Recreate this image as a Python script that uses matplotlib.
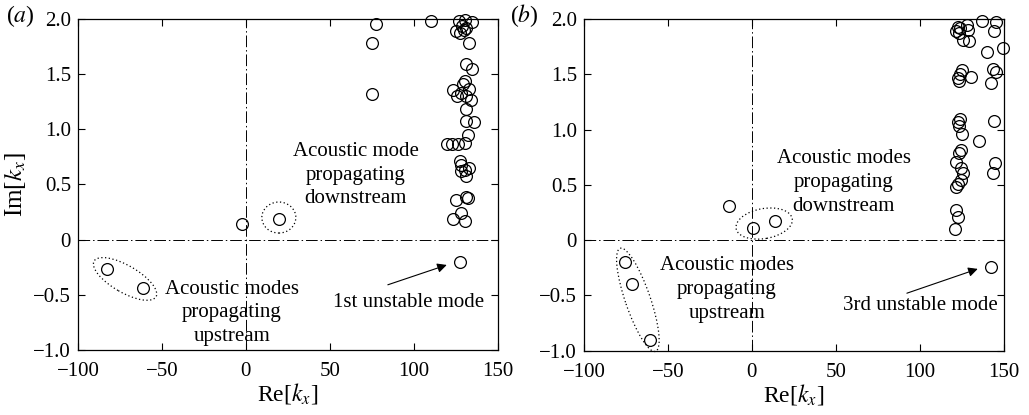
import numpy as np
import matplotlib
matplotlib.use("Agg")
import matplotlib.pyplot as plt
from matplotlib.patches import Ellipse
from matplotlib.transforms import ScaledTranslation
from matplotlib.ticker import FuncFormatter

plt.rcParams["font.family"] = ["Liberation Serif", "DejaVu Serif"]
plt.rcParams["mathtext.fontset"] = "stix"

# panel (a): eigenvalues k_x
re_a = [77.2, 75.2, 75.2, 110.3, -2.4, 19.6, -82.5, -61.3, 127.6,
        126.8, 130.2, 134.7, 128.8, 131.2, 125.2, 127.2, 129.6, 133.1,
        131.2, 134.7, 130.2, 129.2, 123.6, 125.6, 128.2, 131.2, 133.1, 134.1,
        131.2, 131.2, 136.1, 132.1,
        119.5, 123.0, 126.0, 130.5,
        127.2, 128.2, 130.2, 133.1, 128.2, 131.2,
        125.2, 131.2, 132.1, 123.1, 128.2, 130.2]
im_a = [1.96, 1.78, 1.32, 1.98, 0.14, 0.19, -0.27, -0.44, -0.20,
        1.98, 1.99, 1.97, 1.94, 1.92, 1.89, 1.87, 1.90, 1.78,
        1.59, 1.55, 1.44, 1.41, 1.36, 1.30, 1.33, 1.30, 1.37, 1.27,
        1.18, 1.08, 1.07, 0.95,
        0.87, 0.87, 0.87, 0.88,
        0.71, 0.68, 0.63, 0.65, 0.62, 0.58,
        0.36, 0.39, 0.38, 0.19, 0.24, 0.17]

# panel (b)
re_b = [-13.8, 0.7, 13.8, -75.6, -71.3, -60.7, 142.5,
        137.1, 145.4, 144.4, 122.6, 124.1, 121.6, 123.2, 128.2, 128.6, 125.6, 129.2,
        139.9, 149.8, 125.2, 124.1, 122.6, 123.6, 130.6, 143.5, 145.4, 142.1,
        124.1, 122.6, 123.2, 125.0, 135.5, 143.9,
        124.5, 123.4, 121.8, 124.8, 125.8, 145.0, 143.5,
        124.8, 123.0, 121.4, 121.4, 122.8, 120.8]
im_b = [0.31, 0.11, 0.17, -0.20, -0.40, -0.90, -0.24,
        1.98, 1.97, 1.89, 1.93, 1.92, 1.89, 1.87, 1.95, 1.90, 1.81, 1.80,
        1.70, 1.74, 1.54, 1.50, 1.47, 1.44, 1.48, 1.55, 1.52, 1.42,
        1.10, 1.07, 1.03, 0.96, 0.90, 1.08,
        0.82, 0.79, 0.71, 0.65, 0.61, 0.70, 0.61,
        0.54, 0.51, 0.48, 0.27, 0.21, 0.10]

xticks = [-100, -50, 0, 50, 100, 150]
yticks = [-1.0, -0.5, 0, 0.5, 1.0, 1.5, 2.0]

fig = plt.figure(figsize=(10.29, 4.15), dpi=100)
ax_a = fig.add_axes([0.0758, 0.157, 0.408, 0.797])
ax_b = fig.add_axes([0.5675, 0.155, 0.408, 0.799])

def yfmt(v, pos):
    if abs(v) < 1e-9:
        return "0"
    return f"{v:.1f}".replace("-", "\u2212")

def ellipse(ax, cx, cy, w, h, ang):
    # size given in pixels, centred on a data point
    tr = fig.dpi_scale_trans + ScaledTranslation(cx, cy, ax.transData)
    ax.add_patch(Ellipse((0, 0), w / 100, h / 100, angle=ang, transform=tr,
                         fill=False, ls=(0, (1, 2)), lw=0.9, color="black",
                         clip_on=False))

def setup(ax, re, im):
    ax.set_xlim(-100, 150)
    ax.set_ylim(-1.0, 2.0)
    ax.axhline(0, color="black", lw=0.7, ls=(0, (12, 3, 1.5, 3)))
    ax.axvline(0, color="black", lw=0.7, ls=(0, (12, 3, 1.5, 3)))
    ax.plot(re, im, "o", ms=8.5, mfc="none", mec="black", mew=0.9,
            clip_on=False, zorder=3)
    ax.set_xticks(xticks)
    ax.set_yticks(yticks)
    ax.yaxis.set_major_formatter(FuncFormatter(yfmt))
    ax.tick_params(direction="in", top=True, right=True, length=5,
                   width=0.8, labelsize=15)
    ax.tick_params(axis="x", pad=9)
    ax.tick_params(axis="y", pad=5)
    for s in ax.spines.values():
        s.set_linewidth(0.9)
    ax.set_xlabel("Re[$k_x$]", fontsize=17, labelpad=0)

setup(ax_a, re_a, im_a)
setup(ax_b, re_b, im_b)
ax_a.set_ylabel("Im[$k_x$]", fontsize=18, labelpad=4)

fig.text(0.006, 0.962, "($a$)", fontsize=17, va="center")
fig.text(0.496, 0.962, "($b$)", fontsize=17, va="center")

txt = dict(fontsize=15, ha="center", va="center", linespacing=1.35)
ax_a.text(65.5, 0.585, "Acoustic mode\npropagating\ndownstream", **txt)
ax_a.text(-8.3, -0.665, "Acoustic modes\npropagating\nupstream", **txt)
ax_a.text(97, -0.575, "1st unstable mode", **txt)
ax_a.annotate("", xy=(119.6, -0.23), xytext=(84.5, -0.41),
              arrowprops=dict(arrowstyle="-|>", color="black", lw=0.8,
                              mutation_scale=14, shrinkA=0, shrinkB=0))
ellipse(ax_a, 19.6, 0.2, 34, 31, 0)
ellipse(ax_a, -72.0, -0.357, 71.5, 27, -30)

ax_b.text(54.8, 0.52, "Acoustic modes\npropagating\ndownstream", **txt)
ax_b.text(-14.9, -0.45, "Acoustic modes\npropagating\nupstream", **txt)
ax_b.text(100.6, -0.59, "3rd unstable mode", **txt)
ax_b.annotate("", xy=(134.5, -0.26), xytext=(92.3, -0.48),
              arrowprops=dict(arrowstyle="-|>", color="black", lw=0.8,
                              mutation_scale=14, shrinkA=0, shrinkB=0))
ellipse(ax_b, 7.3, 0.15, 57, 30, 10)
ellipse(ax_b, -67.9, -0.54, 109, 25, -71)

fig.savefig("out.png", dpi=100)
